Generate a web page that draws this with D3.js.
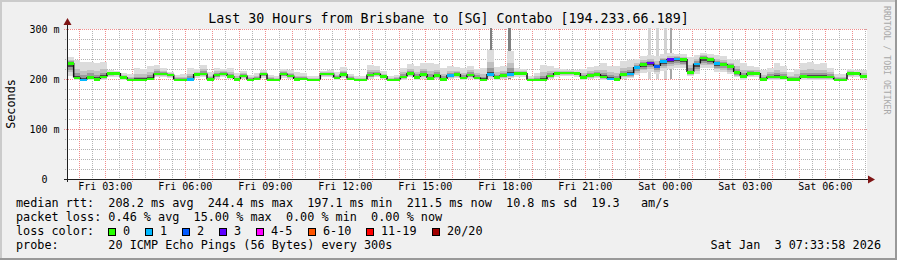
<!DOCTYPE html>
<html>
<head>
<meta charset="utf-8">
<script src="https://cdn.jsdelivr.net/npm/d3@7"></script>
<style>
  body { margin: 0; background: #f0f0f0; }
  svg text { font-family: "DejaVu Sans Mono", monospace; white-space: pre; }
</style>
</head>
<body>
<div id="chart"></div>
<script>
// graph window: last 30 hours, 15 minute steps
const startTime = new Date(2026, 0, 2, 1, 33, 58);
const endTime = new Date(2026, 0, 3, 7, 33, 58);
const stepMinutes = 15;

// median rtt per step (ms)
const medianMs = [
  232, 203, 199, 204, 200, 205, 212, 212, 204, 199, 199, 199, 201, 211, 211, 209, 199, 199, 200, 210,
  211, 200, 209, 211, 206, 200, 207, 199, 201, 211, 199, 199, 211, 207, 200, 201, 199, 199, 211, 211,
  203, 210, 201, 199, 199, 209, 211, 206, 199, 199, 205, 212, 204, 210, 202, 208, 200, 208, 210, 203,
  209, 203, 199, 210, 204, 208, 210, 212, 212, 199, 199, 199, 207, 212, 213, 213, 212, 204, 208, 210,
  205, 201, 200, 210, 211, 224, 230, 233, 226, 236, 240, 241, 240, 214, 231, 243, 240, 232, 230, 226,
  214, 206, 212, 212, 200, 205, 205, 204, 200, 200, 206, 205, 205, 205, 205, 199, 199, 212, 212, 206
];
// lowest ping per step (ms)
const minMs = [
  206, 198, 196, 198, 197, 198, 204, 205, 199, 197, 197, 197, 198, 204, 205, 202, 197, 197, 197, 203,
  204, 197, 201, 204, 200, 197, 200, 197, 198, 203, 197, 197, 203, 200, 197, 198, 197, 197, 204, 205,
  199, 202, 198, 197, 197, 201, 204, 200, 197, 197, 199, 204, 199, 201, 198, 200, 197, 200, 202, 199,
  201, 199, 197, 201, 199, 200, 202, 205, 205, 197, 197, 197, 200, 205, 206, 206, 205, 199, 200, 202,
  199, 198, 197, 201, 202, 208, 212, 214, 210, 216, 220, 222, 222, 206, 210, 222, 222, 214, 214, 210,
  204, 199, 204, 205, 197, 199, 199, 199, 197, 197, 199, 199, 199, 199, 199, 197, 197, 204, 205, 200
];
// highest ping per step (ms)
const maxMs = [
  245, 238, 235, 234, 233, 234, 218, 216, 212, 210, 222, 220, 226, 229, 222, 214, 208, 210, 222, 220,
  228, 214, 222, 220, 222, 212, 216, 208, 212, 218, 208, 206, 220, 218, 214, 212, 206, 206, 216, 218,
  214, 224, 210, 206, 206, 228, 226, 216, 206, 208, 222, 230, 226, 232, 232, 230, 222, 226, 224, 222,
  226, 220, 222, 258, 224, 226, 256, 222, 220, 206, 212, 228, 226, 222, 220, 218, 218, 220, 224, 226,
  232, 226, 226, 236, 238, 240, 246, 248, 246, 250, 252, 250, 250, 244, 248, 252, 250, 248, 246, 240,
  238, 232, 226, 224, 218, 222, 232, 226, 214, 220, 232, 234, 230, 232, 222, 210, 210, 220, 218, 218
];
// lost pings (of 20) per step
const lostPings = [
  0, 0, 1, 0, 0, 0, 0, 0, 0, 0, 0, 0, 0, 0, 0, 0, 0, 0, 1, 0,
  0, 0, 0, 0, 0, 0, 0, 0, 0, 0, 0, 0, 0, 0, 0, 0, 0, 0, 0, 0,
  0, 0, 0, 0, 0, 0, 0, 0, 0, 0, 0, 0, 0, 0, 0, 0, 0, 1, 0, 0,
  0, 0, 0, 1, 0, 0, 1, 0, 0, 0, 0, 0, 0, 0, 0, 0, 0, 0, 0, 0,
  0, 1, 0, 0, 1, 1, 0, 3, 2, 1, 3, 1, 0, 0, 1, 0, 0, 1, 0, 0,
  0, 0, 0, 0, 0, 0, 0, 0, 0, 0, 0, 0, 0, 0, 0, 0, 0, 0, 0, 0
];

// short outliers (5 minute samples)
const peakTimes = ["2026-01-02T17:25", "2026-01-02T18:07", "2026-01-02T23:22", "2026-01-02T23:40", "2026-01-02T23:58", "2026-01-03T00:10"];
const peakMs = [305, 305, 305, 305, 305, 305];
const peakPings = [4, 4, 1, 1, 1, 2];

// axis
const yTicks = [0, 100, 200, 300];
const yTickUnits = ["", "m", "m", "m"];

// legend
const rttNames = ["avg", "max", "min", "now"];
const rttValues = [208.2, 244.4, 197.1, 211.5];
const rttSd = 10.8;
const rttAmps = 19.3;
const lossNames = ["avg", "max", "min", "now"];
const lossValues = [0.46, 15.00, 0.00, 0.00];
const lossLabels = ["0", "1", "2", "3", "4-5", "6-10", "11-19", "20/20"];
const lossLimits = [0, 1, 2, 3, 5, 10, 19, 20];
const lossColors = ["#26ff00", "#00b8ff", "#0059ff", "#5e00ff", "#ff00ff", "#ff5500", "#ff0000", "#a10000"];

const W = 897, H = 260;
const plotLeft = 67, plotRight = 867, plotTop = 29, plotBottom = 179;
const charW = 7.1;

const svg = d3.select("#chart").append("svg")
    .attr("width", W)
    .attr("height", H);

// 背景和边框
svg.append("rect").attr("width", W).attr("height", H).attr("fill", "#f0f0f0");
svg.append("path").attr("d", `M0,${H} V0 H${W}`).attr("fill", "none").attr("stroke", "#cbcbcb").attr("stroke-width", 4);
svg.append("path").attr("d", `M0,${H} H${W} V0`).attr("fill", "none").attr("stroke", "#999999").attr("stroke-width", 4);

svg.append("rect")
    .attr("x", plotLeft).attr("y", plotTop)
    .attr("width", plotRight - plotLeft).attr("height", plotBottom - plotTop)
    .attr("fill", "#ffffff");

const x = d3.scaleTime().domain([startTime, endTime]).range([plotLeft, plotRight]);
const y = d3.scaleLinear().domain([0, 300]).range([plotBottom, plotTop]);

const stepTime = i => new Date(startTime.getTime() + i * stepMinutes * 60000);
const lossIndex = n => lossLimits.findIndex(l => n <= l);

// 网格
const grid = svg.append("g").attr("shape-rendering", "crispEdges");
const px = v => Math.round(v) + 0.5;

const yMinor = d3.range(20, 301, 20).filter(v => v % 100 !== 0);
grid.selectAll(".ymin").data(yMinor).enter().append("line")
    .attr("x1", plotLeft - 2).attr("x2", plotRight)
    .attr("y1", d => px(y(d))).attr("y2", d => px(y(d)))
    .attr("stroke", "#b4b4b4").attr("stroke-dasharray", "1,1");

const halfHours = d3.timeMinute.every(30).range(startTime, endTime).filter(d => d.getMinutes() === 30);
grid.selectAll(".xmin").data(halfHours).enter().append("line")
    .attr("x1", d => px(x(d))).attr("x2", d => px(x(d)))
    .attr("y1", plotTop).attr("y2", plotBottom + 2)
    .attr("stroke", "#b4b4b4").attr("stroke-dasharray", "1,1");

grid.selectAll(".ymaj").data(yTicks.filter(v => v > 0)).enter().append("line")
    .attr("x1", plotLeft - 3).attr("x2", plotRight)
    .attr("y1", d => px(y(d))).attr("y2", d => px(y(d)))
    .attr("stroke", "#f08c8c").attr("stroke-dasharray", "1,1");

const hours = d3.timeHour.range(startTime, endTime);
grid.selectAll(".xmaj").data(hours).enter().append("line")
    .attr("x1", d => px(x(d))).attr("x2", d => px(x(d)))
    .attr("y1", plotTop).attr("y2", plotBottom + 3)
    .attr("stroke", "#f08c8c").attr("stroke-dasharray", "1,1");

// 烟雾
svg.append("clipPath").attr("id", "plotclip")
  .append("rect").attr("x", plotLeft).attr("y", plotTop - 1)
    .attr("width", plotRight - plotLeft).attr("height", plotBottom - plotTop + 1);

const plot = svg.append("g").attr("clip-path", "url(#plotclip)");
const steps = d3.range(medianMs.length);

const parsePeak = d3.timeParse("%Y-%m-%dT%H:%M");
const peakShade = n => n >= 3 ? "#808080" : n === 2 ? "#a6a6a6" : "#d2d2d2";
plot.append("g").attr("shape-rendering", "crispEdges")
  .selectAll("rect").data(peakTimes).enter().append("rect")
    .attr("x", d => x(parsePeak(d)))
    .attr("width", x(new Date(startTime.getTime() + 5 * 60000)) - plotLeft)
    .attr("y", (d, i) => y(peakMs[i]))
    .attr("height", (d, i) => y(200) - y(peakMs[i]))
    .attr("fill", (d, i) => peakShade(peakPings[i]));

const smokeLayers = [
  { up: 1.0, down: 1.0, color: "#dcdcdc" },
  { up: 0.5, down: 0.7, color: "#c0c0c0" },
  { up: 0.25, down: 0.5, color: "#9a9a9a" },
  { up: 0.1, down: 0.3, color: "#4a4a4a" }
];
smokeLayers.forEach(layer => {
  plot.append("g").attr("shape-rendering", "crispEdges")
    .selectAll("rect").data(steps).enter().append("rect")
      .attr("x", i => x(stepTime(i)))
      .attr("width", i => x(stepTime(i + 1)) - x(stepTime(i)))
      .attr("y", i => y(medianMs[i] + (maxMs[i] - medianMs[i]) * layer.up))
      .attr("height", i => y(medianMs[i] - (medianMs[i] - minMs[i]) * layer.down) - y(medianMs[i] + (maxMs[i] - medianMs[i]) * layer.up))
      .attr("fill", layer.color);
});

// 中位数线
plot.append("g")
  .selectAll("line").data(steps.slice(1)).enter().append("line")
    .attr("x1", i => x(stepTime(i))).attr("x2", i => x(stepTime(i)))
    .attr("y1", i => y(medianMs[i - 1])).attr("y2", i => y(medianMs[i]))
    .attr("stroke", "#111").attr("stroke-width", 1.5);

plot.append("g").attr("shape-rendering", "crispEdges")
  .selectAll("rect").data(steps).enter().append("rect")
    .attr("x", i => x(stepTime(i)))
    .attr("width", i => x(stepTime(i + 1)) - x(stepTime(i)))
    .attr("y", i => y(medianMs[i]) - 1)
    .attr("height", 2.5)
    .attr("fill", i => lossColors[lossIndex(lostPings[i])]);

// 坐标轴
const axisColor = "#202020";
const arrowColor = "#7f1515";
svg.append("line").attr("x1", plotLeft + 0.5).attr("x2", plotLeft + 0.5)
    .attr("y1", plotBottom + 3).attr("y2", plotTop - 6)
    .attr("stroke", axisColor);
svg.append("line").attr("x1", plotLeft - 3).attr("x2", plotRight + 3)
    .attr("y1", plotBottom + 0.5).attr("y2", plotBottom + 0.5)
    .attr("stroke", axisColor);
svg.append("path")
    .attr("d", `M${plotLeft - 3.5},${plotTop - 4} L${plotLeft + 0.5},${plotTop - 11} L${plotLeft + 4.5},${plotTop - 4} Z`)
    .attr("fill", arrowColor);
svg.append("path")
    .attr("d", `M${plotRight + 1},${plotBottom - 3.5} L${plotRight + 8},${plotBottom + 0.5} L${plotRight + 1},${plotBottom + 4.5} Z`)
    .attr("fill", arrowColor);

svg.append("g").selectAll("text").data(yTicks).enter().append("text")
    .attr("x", (d, i) => 59.5 - (yTickUnits[i] ? 0 : 12))
    .attr("y", d => y(d) + 4)
    .attr("text-anchor", "end")
    .attr("font-size", 10)
    .text((d, i) => yTickUnits[i] ? `${d} ${yTickUnits[i]}` : `${d}`);

const fmtTime = d3.timeFormat("%a %H:%M");
svg.append("g").selectAll("text").data(d3.timeHour.every(3).range(startTime, endTime)).enter().append("text")
    .attr("x", d => x(d))
    .attr("y", 190)
    .attr("text-anchor", "middle")
    .attr("font-size", 10)
    .text(d => fmtTime(d));

svg.append("text")
    .attr("transform", "translate(14.5,104) rotate(-90)")
    .attr("text-anchor", "middle")
    .attr("font-size", 11.8)
    .text("Seconds");

svg.append("text")
    .attr("x", W / 2).attr("y", 23)
    .attr("text-anchor", "middle")
    .attr("font-size", 13.3)
    .text("Last 30 Hours from Brisbane to [SG] Contabo [194.233.66.189]");

svg.append("text")
    .attr("transform", "translate(884,6) rotate(90)")
    .attr("font-size", 8.2)
    .attr("fill", "#a8a8a8")
    .text("RRDTOOL / TOBI OETIKER");

// 图例
const legend = svg.append("g").attr("font-size", 11.8);
const rttLine = "median rtt:  " + rttValues.map((v, i) => `${v.toFixed(1)} ms ${rttNames[i]}`).join("  ")
    + `  ${rttSd.toFixed(1)} ms sd  ${rttAmps.toFixed(1)}   am/s`;
const lossLine = "packet loss: " + lossValues.map((v, i) => `${v.toFixed(2)} % ${lossNames[i]}`).join("  ");
legend.append("text").attr("x", 16).attr("y", 207).text(rttLine);
legend.append("text").attr("x", 16).attr("y", 221).text(lossLine);
legend.append("text").attr("x", 16).attr("y", 235).text("loss color:");
legend.append("text").attr("x", 16).attr("y", 249).text("probe:       20 ICMP Echo Pings (56 Bytes) every 300s");
legend.append("text").attr("x", 881).attr("y", 249).attr("text-anchor", "end").text("Sat Jan  3 07:33:58 2026");

// 色块: 方块 + 文字, 间隔约两个字符
let cursor = 108;
const boxX = lossLabels.map(label => {
  const bx = cursor;
  cursor = bx + 15 + label.length * charW + 15;
  return bx;
});
const items = legend.selectAll(".loss").data(lossLabels).enter().append("g");
items.append("rect")
    .attr("x", (d, i) => Math.round(boxX[i]) + 0.5).attr("y", 228.5)
    .attr("width", 7).attr("height", 7)
    .attr("fill", (d, i) => lossColors[i])
    .attr("stroke", "#000");
items.append("text")
    .attr("x", (d, i) => Math.round(boxX[i]) + 15)
    .attr("y", 235)
    .text(d => d);
</script>
</body>
</html>
